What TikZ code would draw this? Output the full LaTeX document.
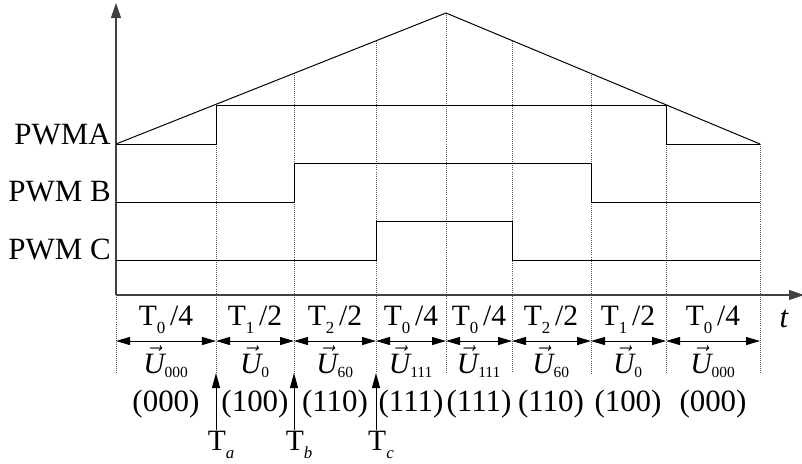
\documentclass[tikz,border=0pt]{standalone}
\usepackage{fontspec}
\setmainfont{Liberation Serif}
\usetikzlibrary{arrows.meta}
\newcommand{\lsub}[1]{\raisebox{-0.65ex}{\fontsize{12}{12}\selectfont #1}}
\newcommand{\uvec}[1]{$\vec{\mbox{\itshape U}}_{\mbox{\fontsize{11}{11}\selectfont #1}}$}

\begin{document}
\begin{tikzpicture}[
  x=0.025cm, y=-0.025cm,
  signal/.style={line width=0.7pt},
  gridline/.style={densely dotted,line width=0.45pt,black!65},
  axis/.style={-{Triangle[length=3.75mm,width=2.5mm]},line width=0.8pt,black!75},
  span/.style={{Triangle[length=3.5mm,width=2mm]}-{Triangle[length=3.5mm,width=2mm]},line width=0.7pt},
  marker/.style={-{Triangle[length=3.75mm,width=2mm]},line width=0.7pt},
  lbl/.style={font=\fontsize{21}{24}\selectfont,inner sep=0pt,anchor=base},
  sig/.style={font=\fontsize{22}{26}\selectfont,inner sep=0pt,anchor=base east}
]
  \useasboundingbox (0,0) rectangle (802,463);

  \coordinate (origin) at (116,295);
  \foreach \i/\x/\top in {0/116/144,1/216/105,2/294/73,3/376/41,4/446/13,
                          5/512/41,6/591/73,7/666/105,8/760/144}{
    \coordinate (top\i) at (\x,\top);
    \coordinate (bot\i) at (\x,373);
    \coordinate (dim\i) at (\x,341);
  }

  \draw[gridline] (origin) -- (bot0);
  \foreach \i in {1,...,8}
    \draw[gridline] (top\i) -- (bot\i);

  \draw[axis] (origin) -- (116,3);
  \draw[axis] (origin) -- (804,295);

  \draw[signal] (top0) -- (top4) -- (top8);
  \draw[signal] (116,144) -- (216,144) -- (216,105) -- (666,105) -- (666,144) -- (760,144);
  \draw[signal] (116,202) -- (294,202) -- (294,163) -- (591,163) -- (591,202) -- (760,202);
  \draw[signal] (116,260) -- (376,260) -- (376,221) -- (512,221) -- (512,260) -- (760,260);

  \node[sig] (pwma) at (111,144) {PWMA};
  \node[sig] (pwmb) at (111,201) {PWM B};
  \node[sig] (pwmc) at (111,259) {PWM C};
  \node[lbl,font=\fontsize{22}{26}\selectfont\itshape] (tlabel) at (784,327) {t};

  \foreach \p/\q/\mx/\dur/\vsub/\code in {
      0/1/166/{T\lsub{0}\,/4}/{000}/{000},
      1/2/255/{T\lsub{1}\,/2}/{0}/{100},
      2/3/335/{T\lsub{2}\,/2}/{60}/{110},
      3/4/411/{T\lsub{0}\,/4}/{111}/{111},
      4/5/479/{T\lsub{0}\,/4}/{111}/{111},
      5/6/551/{T\lsub{2}\,/2}/{60}/{110},
      6/7/628/{T\lsub{1}\,/2}/{0}/{100},
      7/8/713/{T\lsub{0}\,/4}/{000}/{000}}{
    \draw[span] (dim\p) -- (dim\q);
    \node[lbl] (dur\p) at (\mx,325) {\dur};
    \node[lbl] (vec\p) at (\mx,373) {\uvec{\vsub}};
    \node[lbl,font=\fontsize{22}{26}\selectfont] (code\p) at (\mx,411) {(\code)};
  }

  \node[lbl,font=\fontsize{21}{24}\selectfont] (Ta) at (221,450) {T\lsub{\itshape a}};
  \node[lbl,font=\fontsize{21}{24}\selectfont] (Tb) at (299,450) {T\lsub{\itshape b}};
  \node[lbl,font=\fontsize{21}{24}\selectfont] (Tc) at (381,450) {T\lsub{\itshape c}};
  \draw[marker] (Ta.north -| bot1) -- (bot1);
  \draw[marker] (Tb.north -| bot2) -- (bot2);
  \draw[marker] (Tc.north -| bot3) -- (bot3);
\end{tikzpicture}
\end{document}
